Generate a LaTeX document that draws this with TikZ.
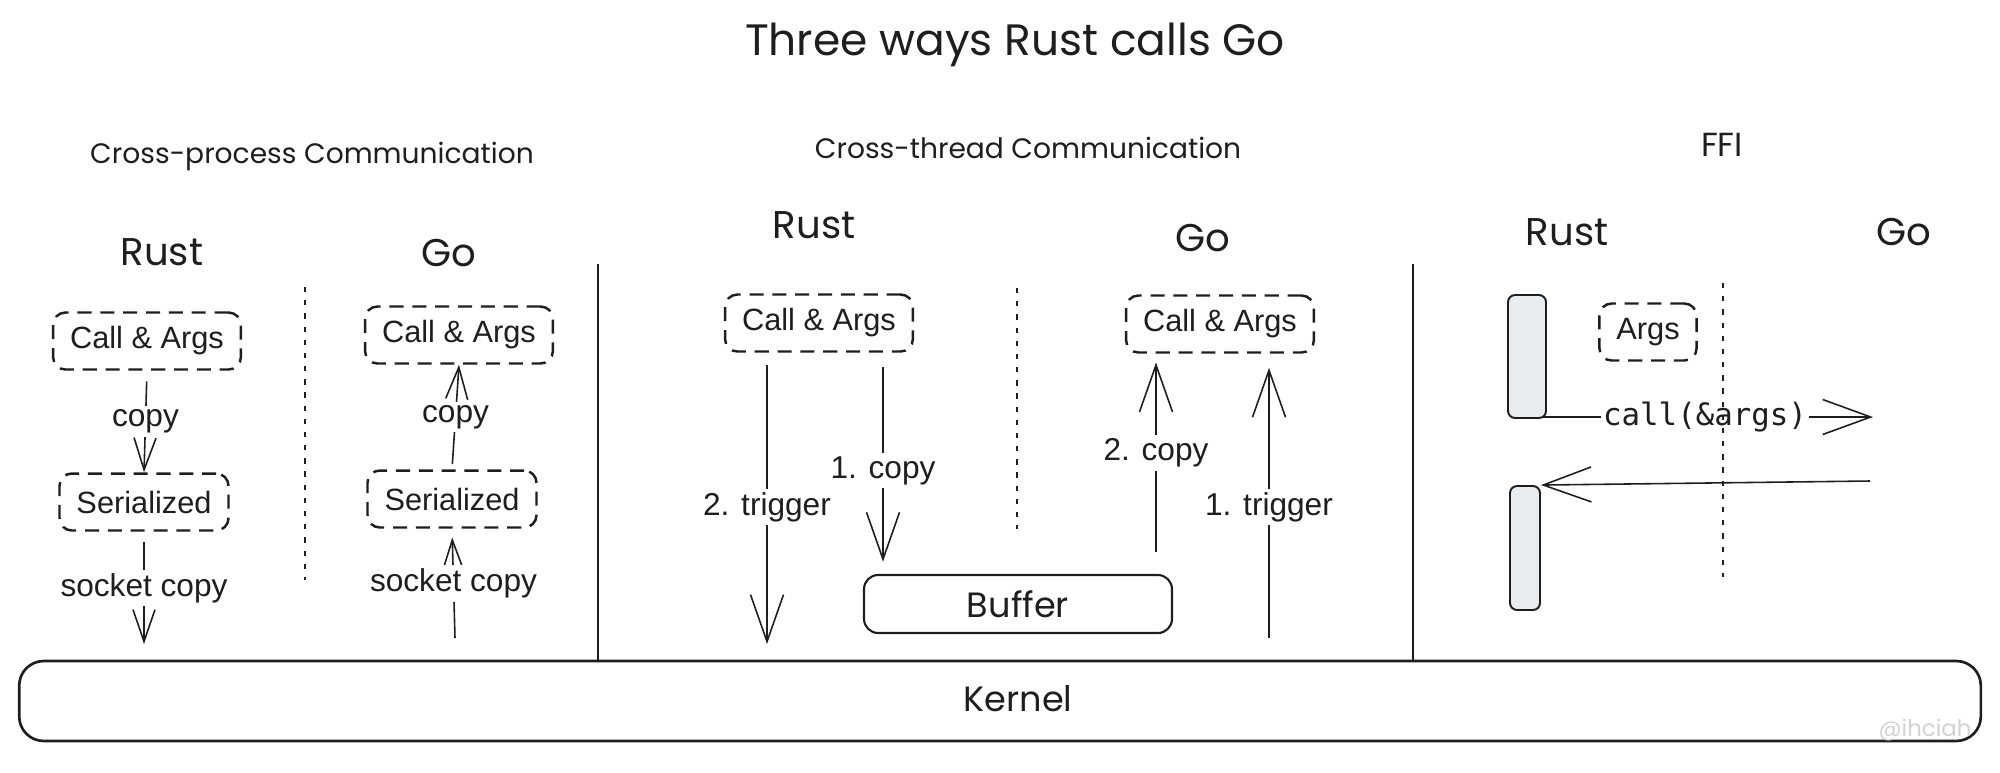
\documentclass[tikz,border=0pt]{standalone}
\usepackage{fontspec}
\setmainfont{Liberation Sans}
\newfontfamily\handfont{Poppins}
\newfontfamily\codefont{DejaVu Sans Mono}
\usetikzlibrary{arrows.meta}
\definecolor{ink}{HTML}{1E1E1E}
\definecolor{barfill}{HTML}{E9ECEF}

\begin{document}
\begin{tikzpicture}[x=0.02cm, y=-0.02cm, color=ink,
  hand/.style={font=\handfont\fontsize{#1}{#1}\selectfont},
  dbox/.style={draw, dash pattern=on 8pt off 5pt, rounded corners=7pt, line width=1.4pt,
    inner xsep=0.34cm, minimum height=1.14cm, font=\fontsize{17.5}{20}\selectfont},
  lbl/.style={fill=white, inner sep=2pt, font=\fontsize{18}{20}\selectfont},
  sarr/.style={-{Straight Barb[length=0.64cm,width=0.44cm]}, line width=0.9pt},
  marr/.style={-{Straight Barb[length=0.94cm,width=0.66cm]}, line width=0.9pt},
  larr/.style={-{Straight Barb[length=0.96cm,width=0.7cm]}, line width=0.9pt},
  dots/.style={dash pattern=on 3pt off 4.5pt, line width=1.5pt},
  divider/.style={line width=1.4pt},
  bar/.style={draw, fill=barfill, rounded corners=4pt, line width=1.1pt, inner sep=0pt}]

\useasboundingbox (0,0) rectangle (2000,772);

% --- Titles ---
\node[hand=25] (title) at (1015,45) {Three ways Rust calls Go};
\node[hand=16] (xproc) at (312,156) {Cross-process Communication};
\node[hand=16] (xthread) at (1028,148) {Cross-thread Communication};
\node[hand=19] (ffi) at (1722,145) {FFI};

% --- Cross-process ---
\node[hand=22] (rust1) at (162,252) {Rust};
\node[hand=22] (go1) at (449,253) {Go};
\node[dbox] (rcall1) at (147,341) {Call \& Args};
\node[dbox] (gcall1) at (459,335) {Call \& Args};
\node[dbox] (rser) at (144,502) {Serialized};
\node[dbox] (gser) at (452,499) {Serialized};
\coordinate (rsock) at (144,644);
\coordinate (gsock) at (455,638);
\draw[sarr, shorten <=6pt] (rcall1.south) -- node[lbl]{copy} (rser.north);
\draw[sarr, shorten <=6pt] (rser.south) -- node[lbl]{socket copy} (rsock);
\draw[sarr, shorten <=3pt] (gser.north) -- node[lbl]{copy} (gcall1.south);
\draw[sarr, shorten >=5pt] (gsock) -- node[lbl]{socket copy} (gser.south);
\draw[dots] (305,287) -- (305,580);
\draw[divider] (598,264) -- (598,661);

% --- Cross-thread ---
\node[hand=22] (rust2) at (814,225) {Rust};
\node[hand=22] (go2) at (1203,238) {Go};
\node[dbox] (rcall2) at (819,323) {Call \& Args};
\node[dbox] (gcall2) at (1220,324) {Call \& Args};
\node[draw, rounded corners=8pt, line width=1.2pt, minimum width=6.16cm,
  minimum height=1.16cm, hand=20] (buffer) at (1018,604) {Buffer};
\coordinate (t2b) at (767,644);
\coordinate (c1a) at (883,367);
\coordinate (c2a) at (1156,552);
\coordinate (t1a) at (1269,638);
\draw[marr, shorten <=7pt] (t2b |- rcall2.south) -- node[lbl, pos=0.53]{2. trigger} (t2b);
\draw[marr, shorten >=7pt] (c1a) -- node[lbl]{1. copy} (c1a |- buffer.north);
\draw[marr, shorten >=5pt] (c2a) -- node[lbl]{2. copy} (c2a |- gcall2.south);
\draw[marr, shorten >=8pt] (t1a) -- node[lbl, pos=0.46]{1. trigger} (t1a |- gcall2.south);
\draw[dots] (1017,288) -- (1017,529);
\draw[divider] (1413,264) -- (1413,661);

% --- FFI ---
\node[hand=22] (rust3) at (1567,232) {Rust};
\node[hand=22] (go3) at (1904,232) {Go};
\node[dbox] (args) at (1648,332) {Args};
\coordinate (callend) at (1873,417);
\coordinate (retstart) at (1870,481);
\draw[larr] (1537,417) -- node[lbl, inner xsep=1pt, font=\codefont\fontsize{17.5}{20}\selectfont]{call(\&args)} (callend);
\node[bar, minimum width=0.76cm, minimum height=2.46cm] (bar1) at (1527,356.5) {};
\node[bar, minimum width=0.6cm, minimum height=2.48cm] (bar2) at (1525,548) {};
\draw[larr] (retstart) -- (bar2.north east);
\draw[dots] (1723,283) -- (1723,577);

% --- Kernel ---
\node[draw, rounded corners=14pt, line width=1.5pt, minimum width=39.24cm,
  minimum height=1.6cm] (kernel) at (1000,701) {};
\node[hand=20] (klabel) at (1018,699) {Kernel};
\node[hand=13, text=gray!35] (mark) at (1925,730) {@ihciah};

\end{tikzpicture}
\end{document}
